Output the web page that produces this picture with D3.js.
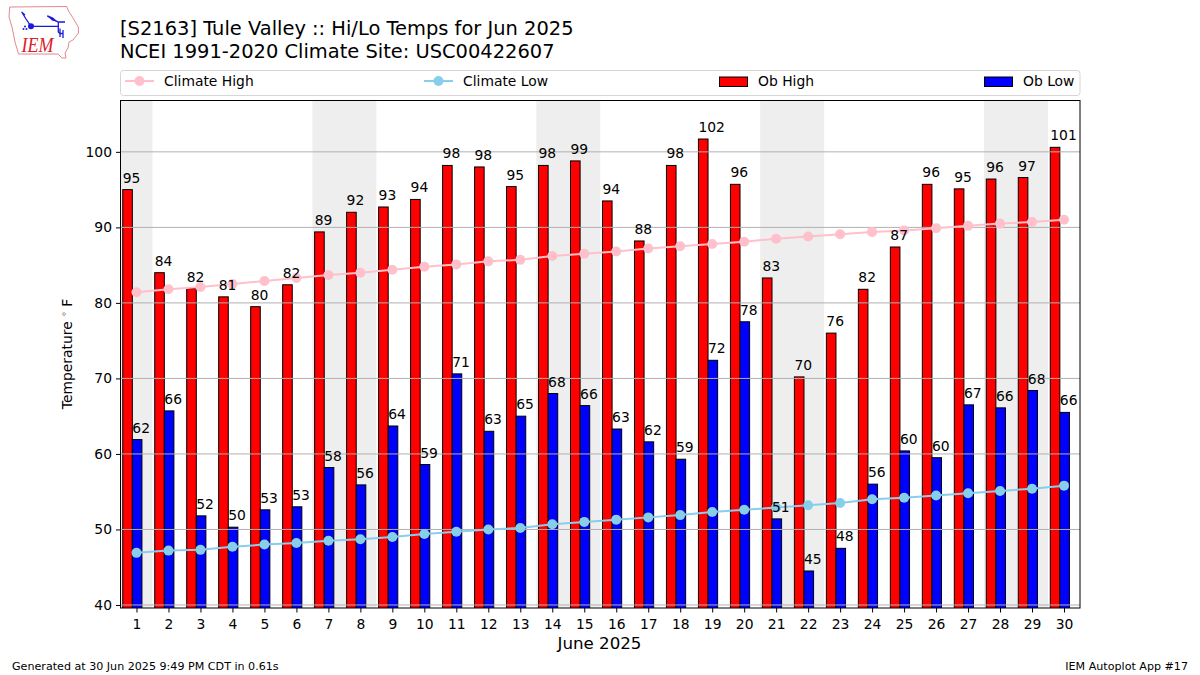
<![CDATA[<!DOCTYPE html>
<html><head><meta charset="utf-8">
<script src="https://cdn.jsdelivr.net/npm/d3@7"></script>
<style>
html,body{margin:0;padding:0;background:#fff}
svg{display:block}
text{font-family:"DejaVu Sans",sans-serif;fill:#000}
</style></head><body><svg id="c" width="1200" height="675"></svg>
<script>
const days=d3.range(1,31);
const obHigh=[95,84,81.9,80.8,79.5,82.4,89.4,92,92.7,93.7,98.2,98,95.4,98.2,98.8,93.5,88.2,98.2,101.7,95.7,83.3,70.2,76,81.8,87.4,95.7,95.1,96.4,96.6,100.6];
const obLow=[61.9,65.7,51.8,50.3,52.6,53,58.2,55.9,63.7,58.6,70.6,63,65,68,66.4,63.3,61.6,59.3,72.4,77.5,51.4,44.5,47.5,56,60.4,59.5,66.5,66.1,68.4,65.5];
const climateHigh=[81.4,81.8,82.1,82.5,82.9,83.3,83.7,84.0,84.4,84.8,85.1,85.5,85.7,86.2,86.5,86.8,87.2,87.5,87.8,88.1,88.5,88.8,89.1,89.4,89.6,89.9,90.2,90.5,90.7,91.0];
const climateLow=[46.9,47.2,47.3,47.7,48,48.2,48.5,48.7,49,49.4,49.7,50,50.2,50.7,51,51.3,51.6,51.9,52.3,52.6,52.9,53.2,53.5,54,54.2,54.5,54.8,55.1,55.4,55.8];
const weekendStarts=[1,7,14,21,28];
const weekendEnds=[1,8,15,22,29];
const yTicks=[40,50,60,70,80,90,100];
const titleLines=["[S2163] Tule Valley :: Hi/Lo Temps for Jun 2025","NCEI 1991-2020 Climate Site: USC00422607"];
const xLabel="June 2025", footLeft="Generated at 30 Jun 2025 9:49 PM CDT in 0.61s", footRight="IEM Autoplot App #17";

const L=120.5,R=1080,T=100.5,B=608;
const svg=d3.select("#c");
const x=d3.scaleLinear().domain([0.5,30.5]).range([L,R]);
const y=d3.scaleLinear().domain([39.6,106.8]).range([B,T]);
const w=x(1.3)-x(1);
const off=-0.43;
svg.append("defs").append("clipPath").attr("id","pc").append("rect").attr("x",L).attr("y",T).attr("width",R-L).attr("height",B-T);
const g=svg.append("g").attr("clip-path","url(#pc)");
g.selectAll(".we").data(weekendStarts).join("rect").attr("x",d=>x(d-0.5)).attr("width",(d,i)=>x(weekendEnds[i]+0.5)-x(d-0.5)).attr("y",T).attr("height",B-T).attr("fill","#eeeeee");
function bars(vals,color,shift){
  g.selectAll(null).data(vals).join("rect").attr("x",(d,i)=>x(days[i]+off+shift)).attr("width",w).attr("y",d=>y(d)).attr("height",d=>y(39)-y(d)).attr("fill",color).attr("stroke","#000").attr("stroke-width",1);
}
bars(obHigh,"#ff0000",0);bars(obLow,"#0000ff",0.3);
g.selectAll(".gl").data(yTicks).join("line").attr("x1",L).attr("x2",R).attr("y1",d=>y(d)).attr("y2",d=>y(d)).attr("stroke","#b0b0b0").attr("stroke-width",1);
function clim(vals,color){
  const ln=d3.line().x((d,i)=>x(days[i])).y(d=>y(d));
  g.append("path").attr("d",ln(vals)).attr("fill","none").attr("stroke",color).attr("stroke-width",2);
  g.selectAll(null).data(vals).join("circle").attr("cx",(d,i)=>x(days[i])).attr("cy",d=>y(d)).attr("r",5).attr("fill",color);
}
clim(climateHigh,"#ffc0cb");clim(climateLow,"#87ceeb");
function labels(vals,shift){
  svg.selectAll(null).data(vals).join("text").attr("x",(d,i)=>x(days[i]+off+shift)).attr("y",d=>y(d)-7).attr("font-size",13.89).text(d=>Math.round(d));
}
labels(obHigh,0);labels(obLow,0.3);
svg.append("rect").attr("x",L).attr("y",T).attr("width",R-L).attr("height",B-T).attr("fill","none").attr("stroke","#000").attr("stroke-width",1);
const xa=svg.append("g").attr("transform",`translate(0,${B})`).call(d3.axisBottom(x).tickValues(days).tickFormat(d3.format("d")).tickSize(4.5).tickPadding(6.5));
const ya=svg.append("g").attr("transform",`translate(${L},0)`).call(d3.axisLeft(y).tickValues(yTicks).tickSize(4.5).tickPadding(4));
[xa,ya].forEach(a=>{a.selectAll("text").attr("font-size",13.89).attr("font-family","DejaVu Sans").attr("fill","#000");a.select(".domain").remove();a.selectAll("line").attr("stroke","#000");});
titleLines.forEach((t,i)=>svg.append("text").attr("x",120).attr("y",35+i*22.5).attr("font-size",19.44).text(t));
svg.append("text").attr("x",599.5).attr("y",649).attr("text-anchor","middle").attr("font-size",16.67).text(xLabel);
const yl=svg.append("text").attr("transform","translate(71.5,354) rotate(-90)").attr("text-anchor","middle").attr("font-size",13.89);
yl.append("tspan").text("Temperature ");
yl.append("tspan").attr("font-size",9.7).attr("dy",-5).attr("fill","#555").text("∘");
yl.append("tspan").attr("dy",5).attr("dx",4).text("F");
svg.append("text").attr("x",12).attr("y",669.5).attr("font-size",11.11).text(footLeft);
svg.append("text").attr("x",1188).attr("y",669.5).attr("text-anchor","end").attr("font-size",11.11).text(footRight);
// legend
svg.append("rect").attr("x",120.5).attr("y",70.5).attr("width",959.5).attr("height",25).attr("rx",3).attr("fill","#fff").attr("stroke","#d6d6d6");
const legendNames=["Climate High","Climate Low","Ob High","Ob Low"];
const legendColors=["#ffc0cb","#87ceeb","#ff0000","#0000ff"];
const legendX=[125,424,719,984];
legendNames.forEach((n,i)=>{
  const X=legendX[i];
  if(i<2){
    svg.append("line").attr("x1",X).attr("x2",X+29).attr("y1",81).attr("y2",81).attr("stroke",legendColors[i]).attr("stroke-width",2);
    svg.append("circle").attr("cx",X+14.5).attr("cy",81).attr("r",5).attr("fill",legendColors[i]);
  } else {
    svg.append("rect").attr("x",X+.5).attr("y",77).attr("width",28).attr("height",9.5).attr("fill",legendColors[i]).attr("stroke","#000");
  }
  svg.append("text").attr("x",X+39).attr("y",85.8).attr("font-size",13.89).text(n);
});
// logo
const lg=svg.append("g");
lg.append("path").attr("d","M9.7 7 L66.7 6.5 L68.5 11 L73 18 L78.3 27 L78.5 33 L73 40 L69 42 L68 48 L65 53 L66 58 L62 58 L58 54 L18.5 54 L15 42 L12 27 L9 17 Z").attr("fill","#fff").attr("stroke","#e08a90").attr("stroke-width",1);
lg.append("path").attr("d","M21.5 12 L25 15 M21.7 12 L26 19 L31 26.3 L58.3 26.3 M47.3 16 L52 19 L58.3 22 L65 22 M58.3 22 L58.3 32 L60 33.5 L63.3 33.5 M60 28.5 L60 37 M63 30 L63 38").attr("fill","none").attr("stroke","#1a1ad8").attr("stroke-width",1.3);
lg.append("path").attr("d","M47 15 L53 17.5 L58 22 L52 20.5 Z").attr("fill","#1a1ad8");
lg.append("circle").attr("cx",31).attr("cy",26.3).attr("r",3).attr("fill","#1a1ad8");
lg.append("circle").attr("cx",23.5).attr("cy",29).attr("r",1).attr("fill","#1a1ad8");
lg.append("circle").attr("cx",26.5).attr("cy",29).attr("r",1).attr("fill","#1a1ad8");
lg.append("circle").attr("cx",25).attr("cy",26.5).attr("r",1).attr("fill","#1a1ad8");
lg.append("text").attr("x",21.5).attr("y",52).attr("font-style","italic").attr("font-size",21).attr("textLength",32).attr("lengthAdjust","spacingAndGlyphs").style("font-family","Liberation Serif").style("fill","#d8202a").text("IEM");
</script></body></html>]]>
